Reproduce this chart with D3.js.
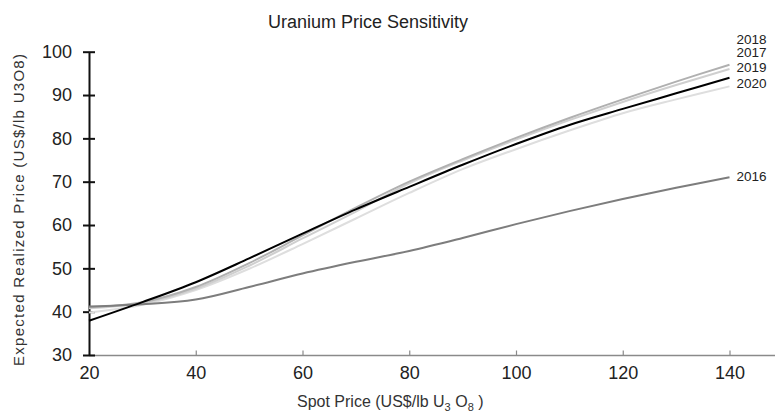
<!DOCTYPE html>
<html><head><meta charset="utf-8">
<script src="https://cdn.jsdelivr.net/npm/d3@7"></script>
<style>
html,body{margin:0;padding:0;background:#fff;}
svg{display:block;font-family:"Liberation Sans",Arial,sans-serif;}
</style></head>
<body><svg id="chart" width="775" height="415"></svg>
<script>
const spotPrices = [20,30,40,50,60,70,80,90,100,110,120,130,140];
const seriesNames = ["2016","2017","2018","2019","2020"];
const values2016 = [41.2,41.7,42.8,45.7,48.8,51.5,54.0,57.0,60.2,63.2,66.0,68.6,71.0];
const values2017 = [40.8,42.0,45.3,50.6,56.9,63.1,69.6,74.9,79.7,84.2,88.4,92.3,96.0];
const values2018 = [41.0,42.2,45.7,51.2,57.6,64.0,70.0,75.2,80.1,84.7,89.0,93.1,97.0];
const values2019 = [37.9,42.2,46.8,52.3,58.0,63.6,68.8,73.9,78.7,83.1,86.8,90.4,94.0];
const values2020 = [39.8,41.6,45.0,49.9,55.6,61.5,67.4,72.9,77.5,81.8,85.8,89.0,92.0];
const xTicks = [20,40,60,80,100,120,140];
const yTicks = [30,40,50,60,70,80,90,100];

const colors = {"2016":"#7d7d7d","2017":"#cfcfcf","2018":"#b0b0b0","2019":"#000000","2020":"#dedede"};
const labelDy = {"2016":3.5,"2017":-12,"2018":-21,"2019":-6,"2020":1.5};
const drawOrder = ["2020","2017","2018","2016","2019"];
const dataBy = {"2016":values2016,"2017":values2017,"2018":values2018,"2019":values2019,"2020":values2020};

const svg = d3.select("#chart");
const x = d3.scaleLinear().domain([20,140]).range([89,729.5]);
const y = d3.scaleLinear().domain([30,100]).range([355,51.7]);

// title
svg.append("text").attr("x",368).attr("y",28).attr("text-anchor","middle")
  .attr("font-size",18).attr("fill","#222").text("Uranium Price Sensitivity");

// x axis
const gx = svg.append("g").attr("transform","translate(0,355.5)")
  .call(d3.axisBottom(x).tickValues(xTicks).tickSizeInner(-5).tickSizeOuter(0).tickPadding(11));
gx.select(".domain").attr("d",`M${x(20)},0H775`).attr("stroke","#8a8a8a").attr("stroke-width",1.6);
gx.selectAll(".tick line").attr("stroke","#8a8a8a").attr("stroke-width",1.2);
gx.selectAll(".tick text").attr("font-size",18).attr("fill","#222").attr("font-family","Liberation Sans, Arial, sans-serif");

// y axis
const gy = svg.append("g").attr("transform",`translate(${x(20)},0)`)
  .call(d3.axisLeft(y).tickValues(yTicks).tickSizeInner(6).tickSizeOuter(0).tickPadding(11));
gy.select(".domain").attr("stroke","#111").attr("stroke-width",2);
gy.selectAll(".tick line").attr("x1",-6).attr("x2",6).attr("stroke","#111").attr("stroke-width",2);
gy.selectAll(".tick text").attr("font-size",18).attr("fill","#222").attr("font-family","Liberation Sans, Arial, sans-serif");

// lines
const line = d3.line().x((d,i)=>x(spotPrices[i])).y(d=>y(d)).curve(d3.curveCatmullRom.alpha(0.5));
drawOrder.forEach(name=>{
  svg.append("path").datum(dataBy[name]).attr("d",line)
    .attr("fill","none").attr("stroke",colors[name]).attr("stroke-width",2);
});

// end labels
seriesNames.forEach(name=>{
  const vals = dataBy[name];
  svg.append("text").attr("x",x(140)+7).attr("y",y(vals[vals.length-1])+labelDy[name])
    .attr("font-size",13.5).attr("fill","#222").text(name);
});

// x title
const xt = svg.append("text").attr("x",297).attr("y",407).attr("font-size",16).attr("fill","#333");
xt.append("tspan").text("Spot Price (US$/lb U");
xt.append("tspan").attr("font-size",11).attr("dy",4).text("3");
xt.append("tspan").attr("dy",-4).text(" O");
xt.append("tspan").attr("font-size",11).attr("dy",4).text("8");
xt.append("tspan").attr("dy",-4).text(" )");

// y title
svg.append("text").attr("transform","translate(24,210) rotate(-90)").attr("text-anchor","middle")
  .attr("font-size",15).attr("fill","#333")
  .attr("textLength",312).attr("lengthAdjust","spacing")
  .text("Expected Realized Price  (US$/lb U3O8)");
</script></body></html>
